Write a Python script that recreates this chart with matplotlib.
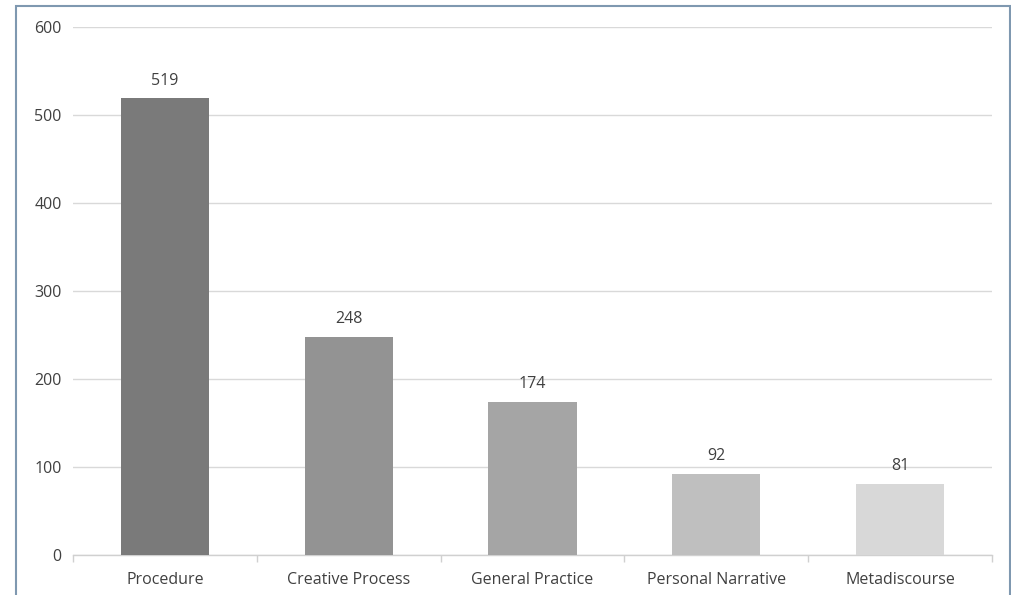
import numpy as np
import matplotlib.pyplot as plt
from matplotlib.patches import Rectangle

# Data
categories = ['Procedure', 'Creative Process', 'General Practice', 'Personal Narrative', 'Metadiscourse']
counts = [519, 248, 174, 92, 81]
bar_colors = ['#7a7a7a', '#939393', '#a5a5a5', '#bfbfbf', '#d8d8d8']

plt.rcParams['font.family'] = ['Open Sans', 'DejaVu Sans']

fig = plt.figure(figsize=(10.12, 5.95), dpi=100)
ax = fig.add_axes([0.0721, 0.0672, 0.908, 0.8874])

x = np.arange(len(categories))
bars = ax.bar(x, counts, width=0.48, color=bar_colors, zorder=3)

for xi, v in zip(x, counts):
    ax.text(xi, v + 11, str(v), ha='center', va='bottom', fontsize=11.5, color='#404040', zorder=4)

ax.set_xlim(-0.5, len(categories) - 0.5)
ax.set_ylim(0, 600)
ax.set_yticks(range(0, 601, 100))
ax.set_xticks(x)
ax.set_xticklabels(categories)
ax.set_xticks(np.arange(-0.5, len(categories), 1), minor=True)

ax.grid(axis='y', color='#d9d9d9', linewidth=1, zorder=0)
for s in ['top', 'right', 'left']:
    ax.spines[s].set_visible(False)
ax.spines['bottom'].set_color('#d0d0d0')
ax.spines['bottom'].set_linewidth(1)

ax.tick_params(axis='y', length=0, labelsize=11.5, labelcolor='#404040', pad=8)
ax.tick_params(axis='x', which='major', length=0, labelsize=11.5, labelcolor='#404040', pad=12)
ax.tick_params(axis='x', which='minor', length=5, color='#d0d0d0', width=1)

# outer frame around the chart
fig.patches.append(Rectangle((16 / 1012, -0.05), (1010 - 16) / 1012, 1 - 6 / 595 + 0.05,
                             transform=fig.transFigure, fill=False,
                             edgecolor='#7f98b0', linewidth=1.5, zorder=10))

fig.savefig('out.png', dpi=100)
